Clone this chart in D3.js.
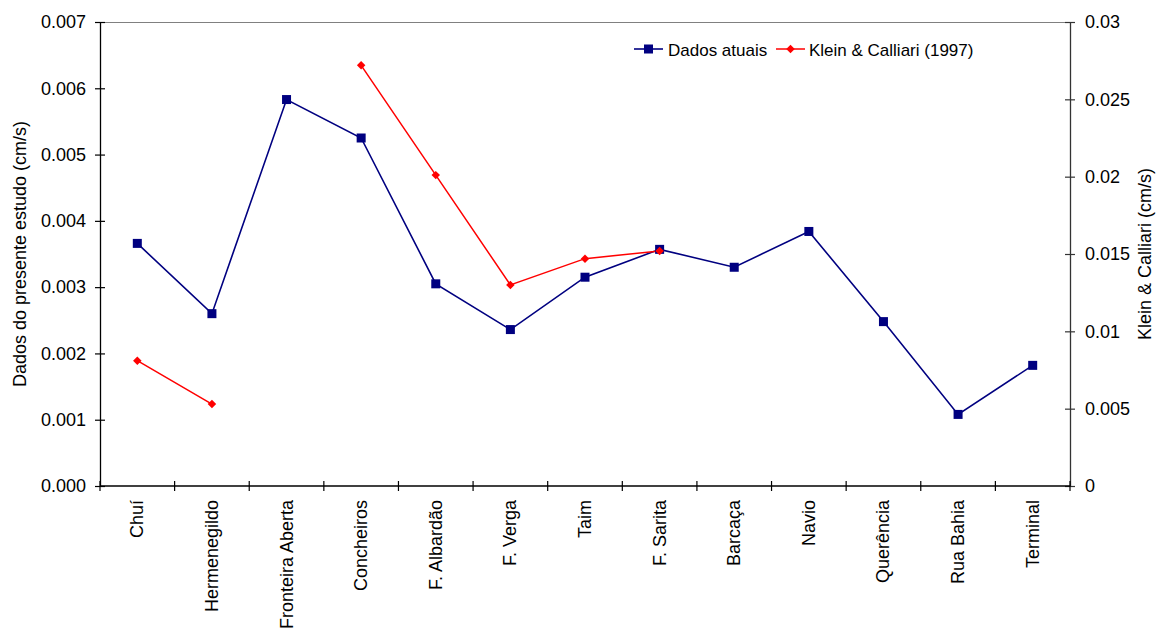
<!DOCTYPE html>
<html>
<head>
<meta charset="utf-8">
<script src="https://cdn.jsdelivr.net/npm/d3@7"></script>
<style>
  html, body { margin: 0; padding: 0; background: #fff; }
  svg { display: block; font-family: "Liberation Sans", Arial, sans-serif; }
</style>
</head>
<body>
<svg id="chart" width="1157" height="630"></svg>
<script>
// Beach sites along the coast
const categories = ["Chuí", "Hermenegildo", "Fronteira Aberta", "Concheiros", "F. Albardão",
  "F. Verga", "Taim", "F. Sarita", "Barcaça", "Navio", "Querência", "Rua Bahia", "Terminal"];

// Present study (left axis, cm/s)
const dadosAtuais = [0.00366, 0.00260, 0.00583, 0.00525, 0.00305, 0.00236, 0.00315,
  0.00357, 0.00330, 0.00384, 0.00248, 0.00108, 0.00182];

// Klein & Calliari (1997) (right axis, cm/s); null = no data
const kleinCalliari = [0.0081, 0.0053, null, 0.0272, 0.0201, 0.0130, 0.0147,
  0.0152, null, null, null, null, null];

const leftTicks = [0, 0.001, 0.002, 0.003, 0.004, 0.005, 0.006, 0.007];
const rightTicks = [0, 0.005, 0.01, 0.015, 0.02, 0.025, 0.03];

const seriesNames = ["Dados atuais", "Klein & Calliari (1997)"];
const leftTitle = "Dados do presente estudo (cm/s)";
const rightTitle = "Klein & Calliari (cm/s)";

const svg = d3.select("#chart");
const m = { left: 100, right: 1070, top: 22, bottom: 486 };
const blue = "#000080", red = "#ff0000";
const fs = "18px";

const x = d3.scaleBand().domain(categories).range([m.left, m.right]);
const yL = d3.scaleLinear().domain([0, 0.007]).range([m.bottom, m.top]);
const yR = d3.scaleLinear().domain([0, 0.03]).range([m.bottom, m.top]);
const cx = d => x(d) + x.bandwidth() / 2;

// top frame line
svg.append("line")
  .attr("x1", m.left).attr("x2", m.right)
  .attr("y1", m.top + 0.5).attr("y2", m.top + 0.5)
  .attr("stroke", "#808080").attr("stroke-width", 1);

function styleAxis(g, col) {
  g.selectAll("path").attr("stroke", col).attr("stroke-width", 1.3);
  g.selectAll("line").attr("stroke", col).attr("stroke-width", 1.2);
  g.selectAll("text").attr("fill", "#000").style("font-size", fs);
}

// left axis (ticks crossing the axis line)
const gL = svg.append("g").attr("transform", `translate(${m.left},0)`)
  .call(d3.axisLeft(yL).tickValues(leftTicks).tickFormat(d3.format(".3f"))
    .tickSizeInner(5).tickSizeOuter(0).tickPadding(9));
gL.selectAll(".tick line").attr("x2", 5).attr("x1", -5);
styleAxis(gL, "#000");

// right axis
const gR = svg.append("g").attr("transform", `translate(${m.right},0)`)
  .call(d3.axisRight(yR).tickValues(rightTicks).tickFormat(d => d === 0 ? "0" : String(+d.toFixed(3)))
    .tickSizeInner(5).tickSizeOuter(0).tickPadding(10));
gR.selectAll(".tick line").attr("x1", -5).attr("x2", 5);
styleAxis(gR, "#333");

// bottom axis: ticks at category boundaries, labels rotated
const gB = svg.append("g").attr("transform", `translate(0,${m.bottom})`);
gB.append("line").attr("x1", m.left).attr("x2", m.right)
  .attr("stroke", "#000").attr("stroke-width", 1.3);
const bounds = categories.map(c => x(c)).concat([m.right]);
gB.selectAll("line.tk").data(bounds).join("line").attr("class", "tk")
  .attr("x1", d => d).attr("x2", d => d).attr("y1", -5).attr("y2", 5)
  .attr("stroke", "#000").attr("stroke-width", 1.2);
gB.selectAll("text").data(categories).join("text")
  .attr("transform", d => `translate(${cx(d) + 6},14) rotate(-90)`)
  .attr("text-anchor", "end")
  .style("font-size", fs)
  .text(d => d);

// axis titles
svg.append("text")
  .attr("transform", `translate(26,254) rotate(-90)`)
  .attr("text-anchor", "middle").style("font-size", fs)
  .text(leftTitle);
svg.append("text")
  .attr("transform", `translate(1151,254) rotate(-90)`)
  .attr("text-anchor", "middle").style("font-size", fs)
  .text(rightTitle);

// series lines
const lineL = d3.line().x((d, i) => cx(categories[i])).y(d => yL(d));
svg.append("path").datum(dadosAtuais)
  .attr("d", lineL).attr("fill", "none").attr("stroke", blue).attr("stroke-width", 1.6);

const lineR = d3.line().defined(d => d !== null)
  .x((d, i) => cx(categories[i])).y(d => yR(d));
svg.append("path").datum(kleinCalliari)
  .attr("d", lineR).attr("fill", "none").attr("stroke", red).attr("stroke-width", 1.5);

// markers
const sq = 9;
svg.selectAll("rect.m").data(dadosAtuais).join("rect").attr("class", "m")
  .attr("x", (d, i) => cx(categories[i]) - sq / 2).attr("y", d => yL(d) - sq / 2)
  .attr("width", sq).attr("height", sq).attr("fill", blue);

const diamondPath = d3.symbol().type(d3.symbolSquare).size(36);
svg.selectAll("path.k").data(kleinCalliari.map((v, i) => ({ v, i })).filter(d => d.v !== null))
  .join("path").attr("class", "k")
  .attr("transform", d => `translate(${cx(categories[d.i])},${yR(d.v)}) rotate(45)`)
  .attr("d", diamondPath)
  .attr("fill", red);

// legend
const lg = svg.append("g").attr("transform", "translate(634,49)");
lg.append("line").attr("x1", 0).attr("x2", 29).attr("stroke", blue).attr("stroke-width", 1.6);
lg.append("rect").attr("x", 14.5 - sq / 2).attr("y", -sq / 2).attr("width", sq).attr("height", sq).attr("fill", blue);
lg.append("text").attr("x", 34).attr("y", 6.5).style("font-size", "17px").text(seriesNames[0]);
lg.append("line").attr("x1", 142).attr("x2", 171).attr("stroke", red).attr("stroke-width", 1.5);
lg.append("path").attr("transform", "translate(156.5,0) rotate(45)")
  .attr("d", diamondPath).attr("fill", red);
lg.append("text").attr("x", 175).attr("y", 6.5).style("font-size", "17px").text(seriesNames[1]);
</script>
</body>
</html>
